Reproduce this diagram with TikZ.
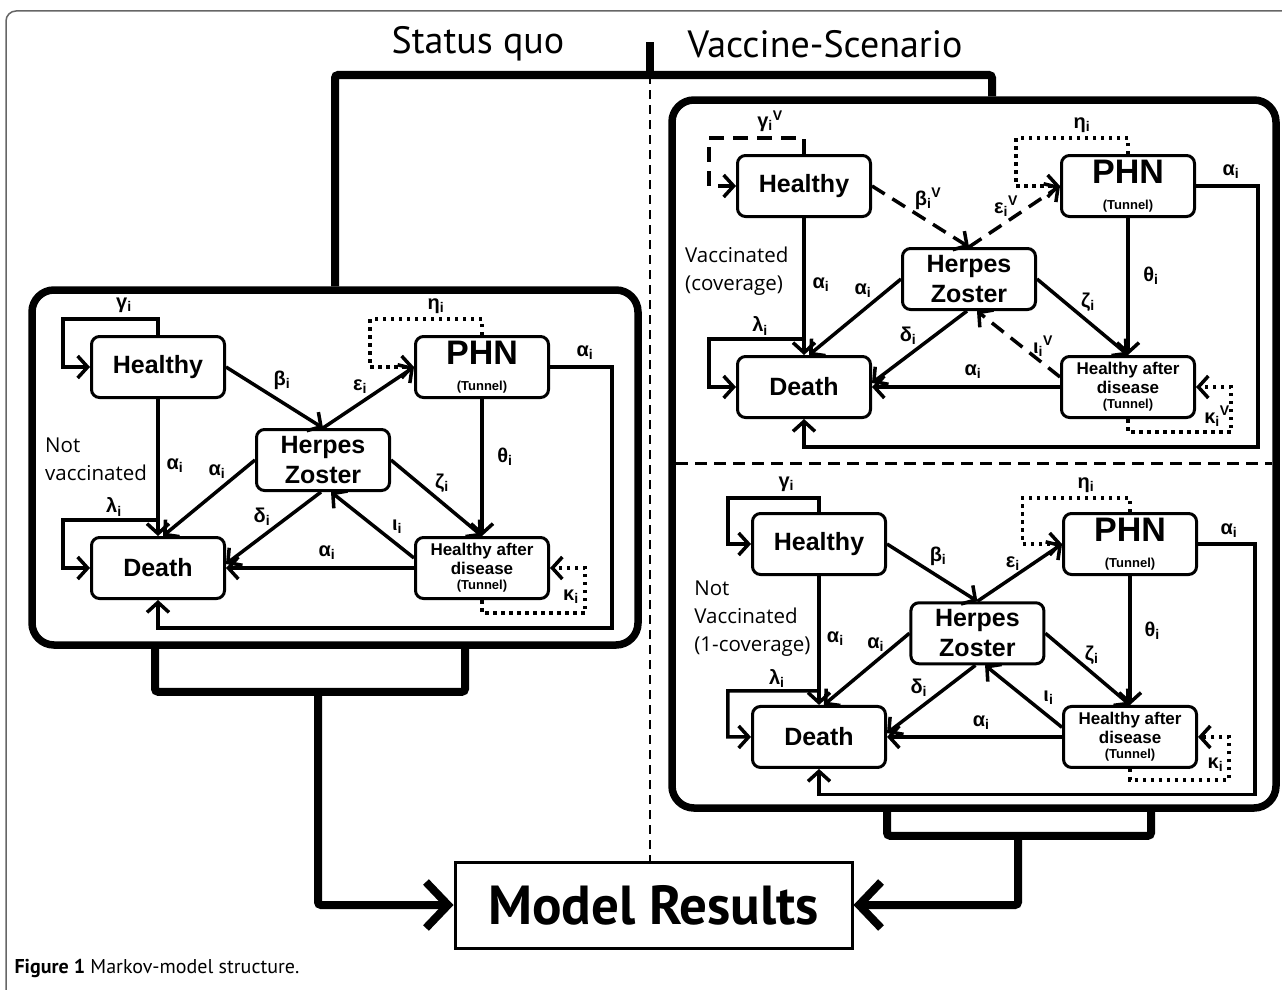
\documentclass[tikz,border=0pt]{standalone}
\usepackage{fontspec}
\setmainfont{Liberation Sans}
\newfontfamily\opensans{Open Sans}
\newfontfamily\ptsans{PT Sans}
\usetikzlibrary{arrows.meta}

\tikzset{
  compart/.style={draw, line width=3pt, rounded corners=8pt, minimum width=133pt, minimum height=61pt,
    inner sep=2pt, align=center, font=\fontsize{25}{30}\selectfont\bfseries},
  trans/.style={line width=3.5pt, -{Straight Barb[length=10pt,width=22pt]}},
  dots/.style={dash pattern=on 3.5pt off 4.5pt},
  vac/.style={dash pattern=on 15pt off 9pt},
  lab/.style={font=\fontsize{20}{20}\selectfont\bfseries, inner sep=0pt},
  side/.style={anchor=west, align=left, inner sep=0pt, font=\opensans\fontsize{20.5}{28}\selectfont},
  panel/.style={draw, line width=7.5pt, rounded corners=22pt},
  bracket/.style={line width=8pt, rounded corners=3pt},
  bigarrow/.style={line width=8pt, rounded corners=3pt, -{Straight Barb[length=22pt,width=46pt]}},
}

\newcommand{\tunnel}{{\fontsize{13}{13}\selectfont (Tunnel)}}

% one Markov model: #1 prefix, #2 side text, #3 its place, #4 style of changed arrows, #5 exponent
\newcommand{\markovpanel}[5]{%
  \node[compart] (#1h) at (0,0) {Healthy};
  \node[compart] (#1d) at (0,201) {Death};
  \node[compart] (#1hz) at (165,93) {Herpes\\Zoster};
  \node[compart] (#1phn) at (324,0) {\fontsize{34}{30}\selectfont PHN\\[-4pt]\tunnel};
  \node[compart, font=\fontsize{17}{19}\selectfont\bfseries] (#1had) at (324,201) {Healthy after\\disease\\[-4pt]\tunnel};
  \coordinate (#1lam) at (0,153);
  \node[side] (#1txt) at #3 {#2};
  % transitions
  \draw[trans,#4] (#1h.north) |- (-95,-48) |- (#1h.west);
  \draw[trans] (#1lam) -| (-95,201) -- (#1d.west);
  \draw[trans] (#1h.south) -- (#1d.north);
  \draw[trans,#4] (#1h.east) -- (#1hz.north);
  \draw[trans,#4] (#1hz.north) -- (#1phn.west);
  \draw[trans,dots] (#1phn.north) |- (212,-48) |- (#1phn.west);
  \draw[trans] (#1phn.east) -| (454,261) -| (#1d.south);
  \draw[trans] (#1phn.south) -- (#1had.north);
  \draw[trans] (#1hz.east) -- (#1had.north);
  \draw[trans] (#1hz.west) -- ([xshift=5pt]#1d.north);
  \draw[trans] ([xshift=-2pt]#1hz.south) -- ([yshift=4pt]#1d.east);
  \draw[trans,#4] ([yshift=10pt]#1had.west) -- ([xshift=8pt]#1hz.south);
  \draw[trans] (#1had.west) -- (#1d.east);
  \draw[trans,dots] (#1had.south) |- (427,246) |- (#1had.east);
  % rates
  \node[lab, anchor=south] (#1gamma) at (-34,-54) {γ\textsubscript{i}#5};
  \node[lab] (#1lambda) at (-44,140) {λ\textsubscript{i}};
  \node[lab] (#1alpha) at (17,99) {α\textsubscript{i}};
  \node[lab] (#1beta) at (124,13) {β\textsubscript{i}#5};
  \node[lab] (#1eps) at (202,20) {ε\textsubscript{i}#5};
  \node[lab, anchor=south] (#1eta) at (278,-53) {η\textsubscript{i}};
  \node[lab] (#1alphb) at (427,-14) {α\textsubscript{i}};
  \node[lab] (#1theta) at (347,90) {θ\textsubscript{i}};
  \node[lab] (#1zeta) at (284,116) {ζ\textsubscript{i}};
  \node[lab] (#1alphc) at (59,105) {α\textsubscript{i}};
  \node[lab] (#1delta) at (104,150) {δ\textsubscript{i}};
  \node[lab] (#1iota) at (239,160) {ι\textsubscript{i}#5};
  \node[lab] (#1alphd) at (169,186) {α\textsubscript{i}};
  \node[lab] (#1kappa) at (413,230) {κ\textsubscript{i}#5};
}

\begin{document}
\begin{tikzpicture}[x=1pt,y=-1pt]
\useasboundingbox (0,0) rectangle (1282,990);
\draw[black!60, line width=1.5pt, rounded corners=10pt] (6,990) -- (6,11) -- (1282,11);

\node[font=\ptsans\fontsize{38}{40}\selectfont] (sqtitle) at (478,44) {Status quo};
\node[font=\ptsans\fontsize{38}{40}\selectfont] (vstitle) at (825,44) {Vaccine-Scenario};

\node[panel, minimum width=606pt, minimum height=355pt] (sqpanel) at (335,467.5) {};
\node[panel, minimum width=604pt, minimum height=708pt] (vspanel) at (974,454) {};
\node[draw, line width=3pt, minimum width=397pt, minimum height=86pt,
  font=\ptsans\bfseries\fontsize{55}{57}\selectfont] (results) at (653.5,905) {Model Results};

\begin{scope}[shift={(158,367)}]
  \markovpanel{l}{Not\\vaccinated}{(-113,92)}{}{}
\end{scope}
\begin{scope}[shift={(804,186)}]
  \markovpanel{v}{Vaccinated\\(coverage)}{(-119,85)}{vac}{\textsuperscript{V}}
\end{scope}
\begin{scope}[shift={(819,544)}, scale=0.96]
  \markovpanel{n}{Not\\Vaccinated\\(1-coverage)}{(-130,78)}{}{}
\end{scope}

\draw[line width=3pt, dash pattern=on 12pt off 7pt] (676,463) -- (1272,463);

% joins between the parts
\coordinate (split) at (650,75);
\draw[bracket] (split) -- ++(0,-33);
\draw[bracket] (sqpanel.north) |- (split) -| ([xshift=18pt]vspanel.north);
\draw[line width=1.5pt, dash pattern=on 9pt off 6pt] (split) -- (split |- results.north);

\draw[bracket] ([xshift=-180pt]sqpanel.south) -- ++(0,43) -- ++(310,0) -- ++(0,-43);
\coordinate (sqjoin) at (318,688);
\draw[bigarrow] (sqjoin) |- (results.west);

\draw[bracket] ([xshift=-87pt]vspanel.south) -- ++(0,24) -- ++(264,0) -- ++(0,-24);
\coordinate (vsjoin) at (1018,835);
\draw[bigarrow] (vsjoin) |- (results.east);

\node[anchor=west, font=\ptsans\fontsize{20}{22}\selectfont] (caption) at (11,968)
  {\textbf{Figure 1} Markov-model structure.};
\end{tikzpicture}
\end{document}
